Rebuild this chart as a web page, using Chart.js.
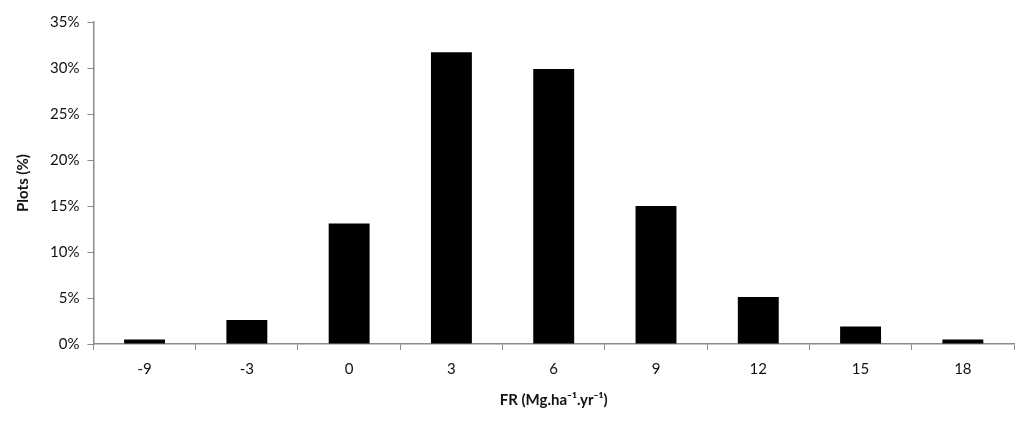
<!DOCTYPE html>
<html>
<head>
<meta charset="utf-8">
<script src="https://cdn.jsdelivr.net/npm/chart.js@4/dist/chart.umd.min.js"></script>
<style>
    html, body { margin: 0; padding: 0; background: #fff; }
    #wrap { width: 1024px; height: 422px; position: relative; }
</style>
</head>
<body>
<div id="wrap"><canvas id="frChart"></canvas></div>
<script>
// FR classes (Mg.ha-1.yr-1) and share of plots (%)
const categories = ['-9', '-3', '0', '3', '6', '9', '12', '15', '18'];
const plotShare = [0.5, 2.6, 13.1, 31.7, 29.9, 15.0, 5.1, 1.9, 0.5];
const yTicks = [0, 5, 10, 15, 20, 25, 30, 35];

const fontFamily = "Lato, 'Open Sans', sans-serif";
const axisGrey = '#8c8c8c';

const ctx = document.getElementById('frChart').getContext('2d');
new Chart(ctx, {
    type: 'bar',
    data: {
        labels: categories,
        datasets: [{
            label: 'Plots (%)',
            data: plotShare,
            backgroundColor: '#000',
            borderWidth: 0,
            categoryPercentage: 1,
            barPercentage: 0.4
        }]
    },
    options: {
        responsive: true,
        maintainAspectRatio: false,
        animation: false,
        layout: { padding: { top: 22, right: 10, bottom: 13, left: 14 } },
        plugins: {
            legend: { display: false },
            tooltip: { enabled: false }
        },
        scales: {
            x: {
                offset: true,
                grid: {
                    offset: true,
                    drawOnChartArea: false,
                    drawTicks: true,
                    tickLength: 6,
                    color: axisGrey
                },
                border: { color: axisGrey, width: 1.5 },
                ticks: {
                    color: '#111',
                    font: { family: fontFamily, size: 15 },
                    padding: 10,
                    maxRotation: 0
                },
                title: {
                    display: true,
                    text: 'FR (Mg.ha\u207B\u00B9.yr\u207B\u00B9)',
                    color: '#111',
                    font: { family: fontFamily, size: 15, weight: 'bold' },
                    padding: { top: 3, bottom: 0 }
                }
            },
            y: {
                min: 0,
                max: 35,
                afterBuildTicks: (scale) => {
                    scale.ticks = yTicks.map(v => ({ value: v }));
                },
                grid: {
                    drawOnChartArea: false,
                    drawTicks: true,
                    tickLength: 6,
                    color: axisGrey
                },
                border: { color: axisGrey, width: 1.5 },
                ticks: {
                    color: '#111',
                    font: { family: fontFamily, size: 15 },
                    padding: 8,
                    callback: (v) => v + '%'
                },
                title: {
                    display: true,
                    text: 'Plots (%)',
                    color: '#111',
                    font: { family: fontFamily, size: 15, weight: 'bold' },
                    padding: { top: 0, bottom: 10 }
                }
            }
        }
    }
});
</script>
</body>
</html>
